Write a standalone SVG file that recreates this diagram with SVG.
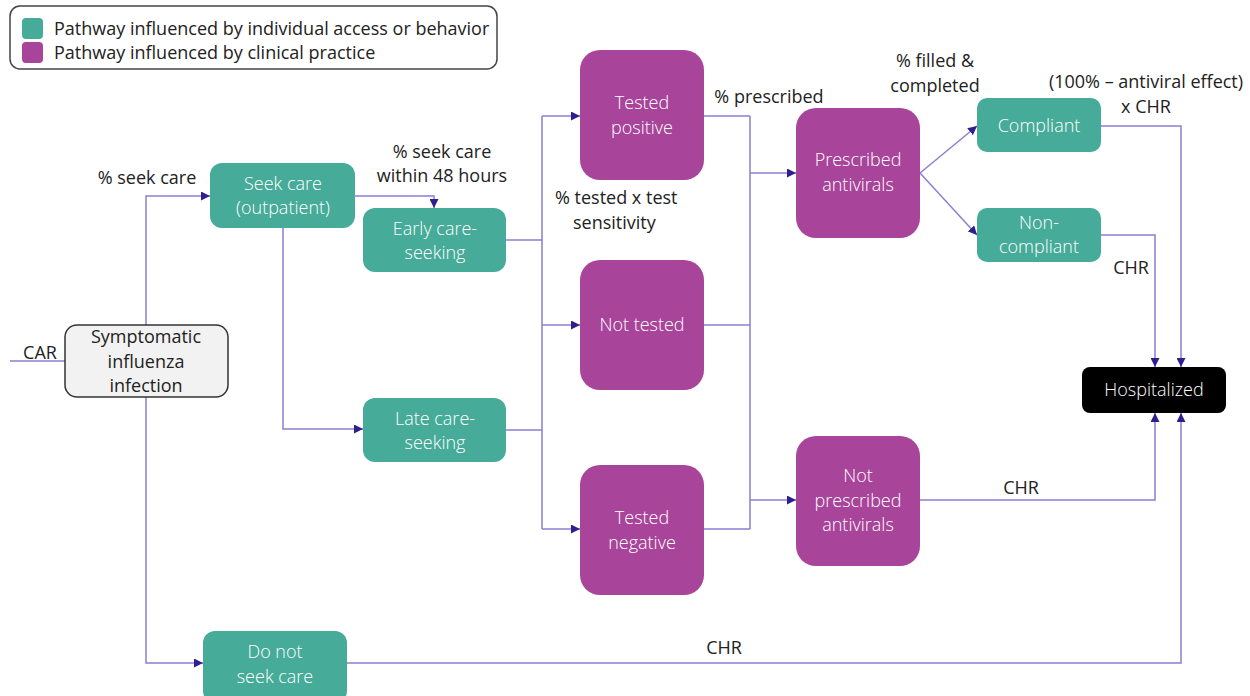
<svg xmlns="http://www.w3.org/2000/svg" width="1250" height="696" viewBox="0 0 1250 696">
<defs>
<marker id="ah" viewBox="0 0 10 10" refX="10" refY="5" markerWidth="9" markerHeight="9" markerUnits="userSpaceOnUse" orient="auto">
<path d="M0,0 L10,5 L0,10 z" fill="#2e1f8f"/>
</marker>
</defs>
<style>
text{font-family:"Open Sans","Noto Sans","Liberation Sans",sans-serif;font-size:18px;}
.lbl{fill:#222;text-anchor:middle;}
.nt{fill:#fff;text-anchor:middle;font-weight:300;}
.dk{fill:#222;text-anchor:middle;}
.teal{fill:#46ab98;}
.purp{fill:#a8449a;}
.c{fill:none;stroke:#8b80d2;stroke-width:1.5;}
.a{marker-end:url(#ah);}
</style>
<rect width="1250" height="696" fill="#fff"/>
<g id="legend">
<rect x="10" y="6" width="487" height="63" rx="10" fill="#fff" stroke="#444" stroke-width="1.5"/>
<rect x="22" y="18" width="21" height="21" rx="4" class="teal"/>
<rect x="22" y="42" width="21" height="21" rx="4" class="purp"/>
<text x="54" y="35" fill="#222">Pathway influenced by individual access or behavior</text>
<text x="54" y="59" fill="#222">Pathway influenced by clinical practice</text>
</g>
<g id="connectors">
<path class="c" d="M10,361 H65"/>
<path class="c a" d="M146,325 V196 H210"/>
<path class="c a" d="M146,397 V663 H203"/>
<path class="c a" d="M355,196 H434 V208"/>
<path class="c a" d="M283,228 V429 H363"/>
<path class="c" d="M506,240 H542 M506,430 H542 M542,116 V529"/>
<path class="c a" d="M542,116 H580"/>
<path class="c a" d="M542,325 H580"/>
<path class="c a" d="M542,529 H580"/>
<path class="c" d="M704,116 H750 M704,325 H750 M704,529 H750 M750,116 V529"/>
<path class="c a" d="M750,173 H796"/>
<path class="c a" d="M750,500 H796"/>
<path class="c a" d="M920,173 L977,126"/>
<path class="c a" d="M920,173 L977,235"/>
<path class="c a" d="M1101,126 H1181 V367"/>
<path class="c a" d="M1101,235 H1155 V367"/>
<path class="c a" d="M920,500 H1155 V413"/>
<path class="c a" d="M347,663 H1181 V413"/>
</g>
<g id="edge-labels">
<text class="lbl" x="40" y="359">CAR</text>
<text class="lbl" x="147" y="184">% seek care</text>
<text class="lbl" x="442" y="158">% seek care</text>
<text class="lbl" x="442" y="182">within 48 hours</text>
<text x="555" y="204" fill="#222">% tested x test</text>
<text x="573" y="229" fill="#222">sensitivity</text>
<text class="lbl" x="769" y="103">% prescribed</text>
<text class="lbl" x="935" y="67">% filled &amp;</text>
<text class="lbl" x="935" y="92">completed</text>
<text class="lbl" x="1146" y="88">(100% – antiviral effect)</text>
<text class="lbl" x="1146" y="113">x CHR</text>
<text class="lbl" x="1131" y="274">CHR</text>
<text class="lbl" x="1021" y="494">CHR</text>
<text class="lbl" x="724" y="654">CHR</text>
</g>
<g id="n-symptomatic">
<rect x="65" y="325" width="163" height="72" rx="12" fill="#f2f2f2" stroke="#333" stroke-width="1.5"/>
<text class="dk" x="146" y="343">Symptomatic</text>
<text class="dk" x="146" y="368">influenza</text>
<text class="dk" x="146" y="392">infection</text>
</g>
<g id="n-seekcare">
<rect x="210" y="163" width="145" height="65" rx="12" class="teal"/>
<text class="nt" x="283" y="190">Seek care</text>
<text class="nt" x="283" y="214">(outpatient)</text>
</g>
<g id="n-early">
<rect x="363" y="208" width="143" height="64" rx="12" class="teal"/>
<text class="nt" x="435" y="235">Early care-</text>
<text class="nt" x="435" y="259">seeking</text>
</g>
<g id="n-late">
<rect x="363" y="398" width="143" height="64" rx="12" class="teal"/>
<text class="nt" x="435" y="425">Late care-</text>
<text class="nt" x="435" y="449">seeking</text>
</g>
<g id="n-dontseek">
<rect x="203" y="631" width="144" height="72" rx="12" class="teal"/>
<text class="nt" x="275" y="658">Do not</text>
<text class="nt" x="275" y="683">seek care</text>
</g>
<g id="n-testpos">
<rect x="580" y="50" width="124" height="130" rx="20" class="purp"/>
<text class="nt" x="642" y="109">Tested</text>
<text class="nt" x="642" y="134">positive</text>
</g>
<g id="n-nottested">
<rect x="580" y="260" width="124" height="130" rx="20" class="purp"/>
<text class="nt" x="642" y="331">Not tested</text>
</g>
<g id="n-testneg">
<rect x="580" y="465" width="124" height="130" rx="20" class="purp"/>
<text class="nt" x="642" y="524">Tested</text>
<text class="nt" x="642" y="549">negative</text>
</g>
<g id="n-prescribed">
<rect x="796" y="108" width="124" height="130" rx="20" class="purp"/>
<text class="nt" x="858" y="166">Prescribed</text>
<text class="nt" x="858" y="191">antivirals</text>
</g>
<g id="n-notprescribed">
<rect x="796" y="436" width="124" height="130" rx="20" class="purp"/>
<text class="nt" x="858" y="482">Not</text>
<text class="nt" x="858" y="507">prescribed</text>
<text class="nt" x="858" y="531">antivirals</text>
</g>
<g id="n-compliant">
<rect x="977" y="98" width="124" height="54" rx="10" class="teal"/>
<text class="nt" x="1039" y="132">Compliant</text>
</g>
<g id="n-noncompliant">
<rect x="977" y="208" width="124" height="54" rx="10" class="teal"/>
<text class="nt" x="1039" y="229">Non-</text>
<text class="nt" x="1039" y="253">compliant</text>
</g>
<g id="n-hospitalized">
<rect x="1082" y="367" width="144" height="46" rx="8" fill="#000"/>
<text class="nt" x="1154" y="396">Hospitalized</text>
</g>
</svg>
